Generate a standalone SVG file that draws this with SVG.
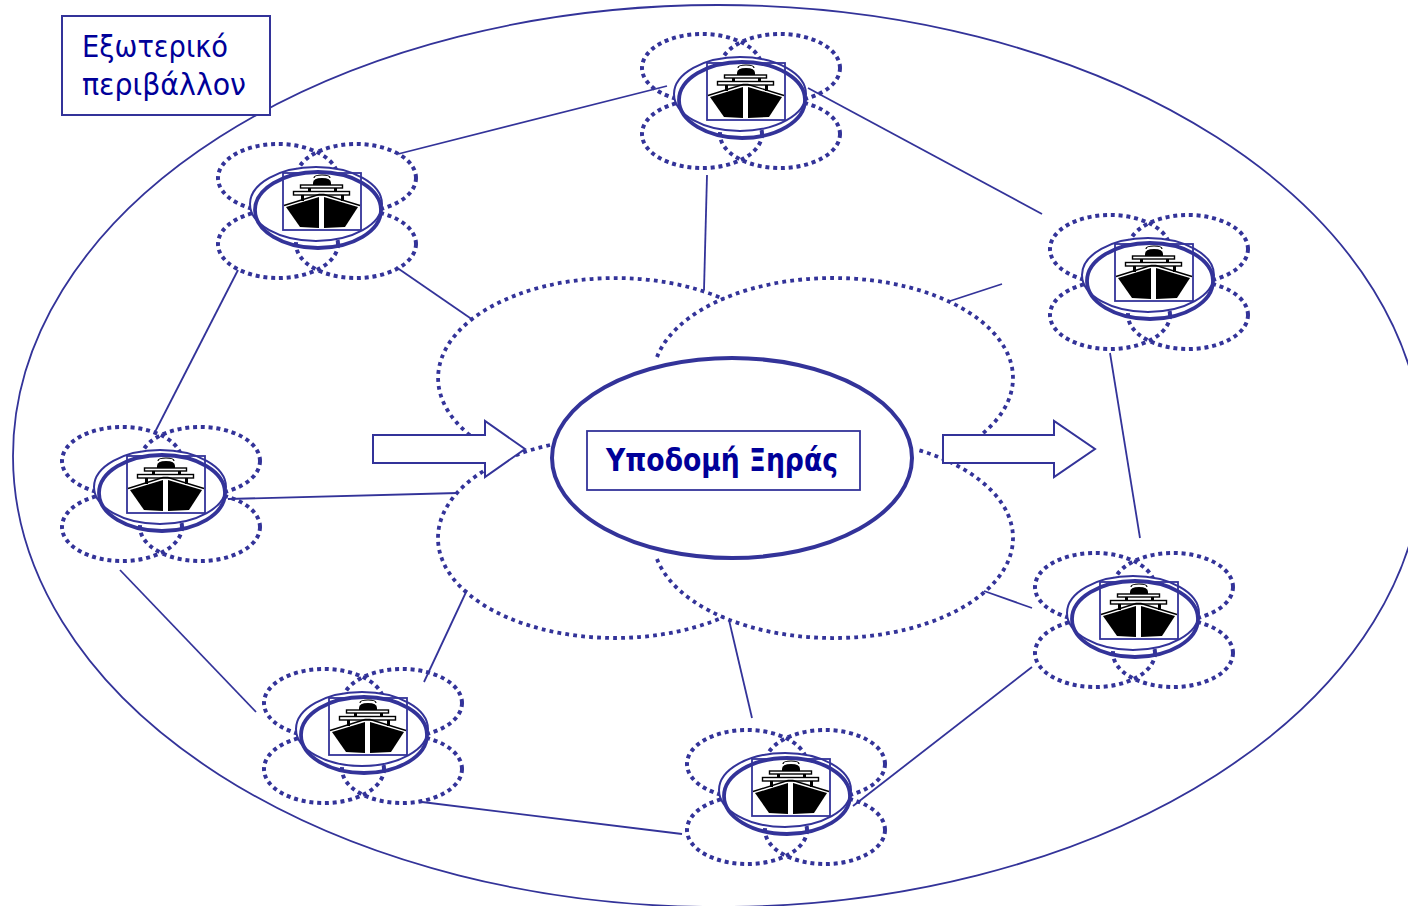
<svg xmlns="http://www.w3.org/2000/svg" width="1408" height="906" viewBox="0 0 1408 906">
<style>
.l{fill:none;stroke:#333399;stroke-width:1.8}
.d{fill:none;stroke:#333399;stroke-width:4;stroke-dasharray:4 3.8}
.c{fill:none;stroke:#333399;stroke-width:3.8;stroke-dasharray:3.8 4.2}
.r{fill:#fff;stroke:#333399}
.a{fill:#fff;stroke:#333399;stroke-width:2}
.k{fill:#000}
.w{fill:#fff;stroke:#000;stroke-width:1.4}
text{font-family:"DejaVu Sans",sans-serif;fill:#000099}
</style>
<defs>
<g id="ship-node">
<ellipse class="d" cx="702" cy="68" rx="60" ry="34"/>
<ellipse class="d" cx="780" cy="68" rx="60" ry="34"/>
<ellipse class="d" cx="702" cy="134" rx="60" ry="34"/>
<ellipse class="d" cx="780" cy="134" rx="60" ry="34"/>
<ellipse class="r" cx="740" cy="94" rx="66" ry="37" stroke-width="2"/>
<ellipse cx="742" cy="100" rx="63" ry="38" fill="none" stroke="#333399" stroke-width="3.8"/>
<rect x="707" y="63" width="78" height="57" fill="none" stroke="#333399" stroke-width="1.8"/>
<path class="k" d="M737 75V73Q737 68 746 68Q755 68 755 73V75Z"/>
<path d="M738 68Q738 65 746 65Q754 65 754 68" fill="none" stroke="#000" stroke-width="1.2"/>
<rect class="k" x="725" y="84" width="3" height="7"/>
<rect class="k" x="765" y="84" width="3" height="7"/>
<rect class="k" x="732" y="77" width="3" height="5"/>
<rect class="k" x="758" y="77" width="3" height="5"/>
<rect class="w" x="724.500" y="75" width="42" height="3"/>
<rect class="w" x="717.500" y="81.500" width="56" height="3.500"/>
<path d="M708 95.500L743 84.500L748 84.500L784 95.500" fill="none" stroke="#000" stroke-width="1.400"/>
<path class="k" d="M710 97L743 87V118L724 117Z"/>
<path class="k" d="M748 87L782 97L769 117L748 118Z"/>
</g>
</defs>
<g id="outer-environment"><ellipse class="l" cx="718" cy="456" rx="705" ry="451"/></g>
<g id="connectors">
<line class="l" x1="398" y1="154" x2="667" y2="86"/>
<line class="l" x1="808" y1="88" x2="1042" y2="214"/>
<line class="l" x1="707" y1="175" x2="704" y2="290"/>
<line class="l" x1="396" y1="267" x2="473" y2="320"/>
<line class="l" x1="238" y1="270" x2="155" y2="432"/>
<line class="l" x1="228" y1="499" x2="458" y2="493"/>
<line class="l" x1="120" y1="570" x2="256" y2="712"/>
<line class="l" x1="467" y1="590" x2="424" y2="682"/>
<line class="l" x1="422" y1="802" x2="682" y2="834"/>
<line class="l" x1="729" y1="620" x2="752" y2="718"/>
<line class="l" x1="853" y1="806" x2="1032" y2="667"/>
<line class="l" x1="984" y1="591" x2="1032" y2="608"/>
<line class="l" x1="1110" y1="353" x2="1140" y2="538"/>
<line class="l" x1="950" y1="301" x2="1002" y2="284"/>
</g>
<g id="land-cloud">
<path class="c" d="M470 435.300A177 100 0 0 1 724 299.200"/>
<path class="c" d="M657 357A180 100 0 1 1 980 435.700"/>
<path class="c" d="M550 445A177 100 0 1 0 724 616.800"/>
<path class="c" d="M657 559A180 100 0 1 0 916 449.300"/>
</g>
<g id="arrow-in"><path class="a" d="M373 435H485V421L525 449L485 477V463H373Z"/></g>
<g id="arrow-out"><path class="a" d="M943 435H1054V421L1095 449L1054 477V463H943Z"/></g>
<g id="land-infrastructure">
<ellipse class="r" cx="732" cy="458" rx="180" ry="100" stroke-width="4"/>
<rect x="587" y="431" width="273" height="59" fill="none" stroke="#333399" stroke-width="1.800"/>
<text x="606" y="471" font-size="31" font-weight="700" textLength="232" lengthAdjust="spacingAndGlyphs">Υποδομή Ξηράς</text>
</g>
<g id="environment-label">
<rect x="62" y="16" width="208" height="99" fill="#fff" stroke="#333399" stroke-width="2"/>
<text x="82" y="57" font-size="31" textLength="146" lengthAdjust="spacingAndGlyphs">Εξωτερικό</text>
<text x="82" y="95" font-size="31" textLength="164" lengthAdjust="spacingAndGlyphs">περιβάλλον</text>
</g>
<g id="ship-top"><use href="#ship-node"/></g>
<g id="ship-top-left"><use href="#ship-node" transform="translate(-424,110)"/></g>
<g id="ship-left"><use href="#ship-node" transform="translate(-580,393)"/></g>
<g id="ship-bottom-left"><use href="#ship-node" transform="translate(-378,635)"/></g>
<g id="ship-bottom"><use href="#ship-node" transform="translate(45,696)"/></g>
<g id="ship-bottom-right"><use href="#ship-node" transform="translate(393,519)"/></g>
<g id="ship-top-right"><use href="#ship-node" transform="translate(408,181)"/></g>
</svg>
